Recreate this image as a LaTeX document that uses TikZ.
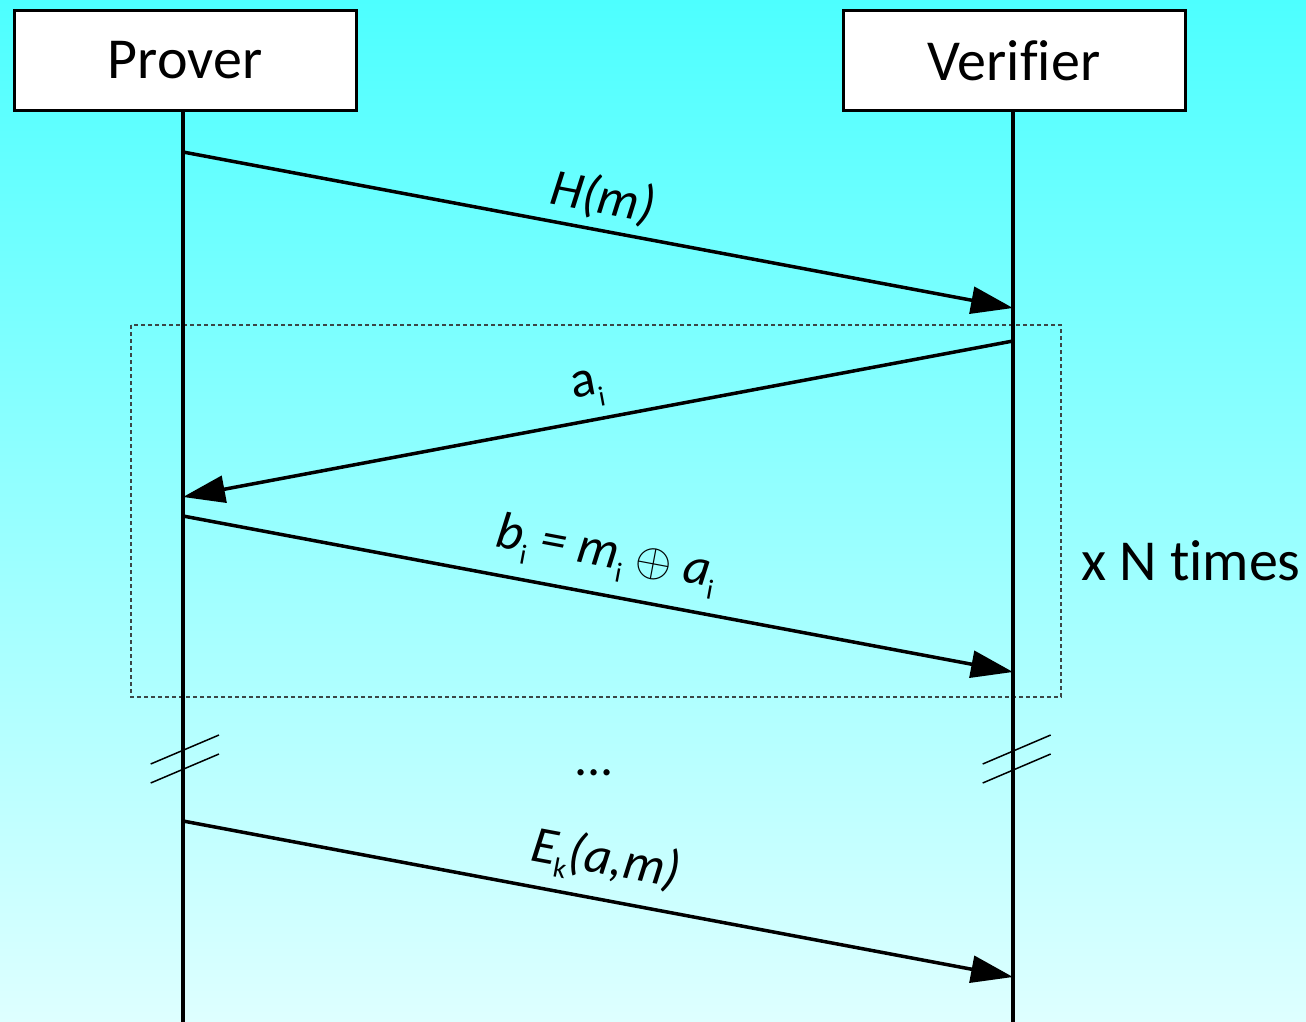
\documentclass[tikz,border=0pt]{standalone}
\usepackage{fontspec}
\setmainfont{Carlito}[Ligatures={NoCommon}]
\usetikzlibrary{arrows.meta}
\definecolor{bgtop}{RGB}{77,255,255}
\definecolor{bgbot}{RGB}{222,255,255}
\definecolor{dashgray}{RGB}{60,70,70}
\newcommand\sbs[1]{\raisebox{-12pt}{\upshape\fontsize{28}{28}\selectfont #1}}
\newcommand\xorsym{\scalebox{4.7}{\normalsize$\oplus$}}
\begin{document}
\begin{tikzpicture}[x=1pt,y=-1pt,
  actor/.style={draw, line width=3pt, fill=white, minimum width=342pt, minimum height=100pt, inner sep=0pt, font=\fontsize{58}{62}\selectfont},
  life/.style={line width=3.2pt},
  msg/.style={line width=3.5pt, -{Triangle[length=42pt,width=27pt]}},
  lbl/.style={font=\fontsize{52}{56}\selectfont, inner sep=0pt, anchor=base},
  brk/.style={line width=1.5pt},
  loopbox/.style={draw=dashgray, line width=1.1pt, dash pattern=on 4pt off 3pt},
]
\shade[top color=bgtop, bottom color=bgbot] (0,0) rectangle (1306,1022);
\useasboundingbox (0,0) rectangle (1306,1022);

% loop frame
\draw[loopbox] (131,325) rectangle (1061,697);

% actors
\node[actor] (P) at (185,60.5) {Prover};
\node[actor] (V) at (1014,60.5) {Verifier};

% lifelines
\coordinate (Pend) at (183,1022);
\coordinate (Vend) at (1013,1022);
\draw[life] (P.south -| Pend) -- (Pend);
\draw[life] (V.south -| Vend) -- (Vend);

% message endpoints
\coordinate (m1s) at (183,152);  \coordinate (m1e) at (1013,308);
\coordinate (m2s) at (1013,341); \coordinate (m2e) at (183,497);
\coordinate (m3s) at (183,516);  \coordinate (m3e) at (1013,672);
\coordinate (m4s) at (183,821);  \coordinate (m4e) at (1013,977);

\draw[msg] (m1s) -- (m1e);
\draw[msg] (m2s) -- (m2e);
\draw[msg] (m3s) -- (m3e);
\draw[msg] (m4s) -- (m4e);

% labels
\node[lbl, rotate=-10.64] (l1) at (600,213) {\itshape H(m)};
\node[lbl, rotate=10.64] (l2) at (589,396) {a\sbs{i}};
\node[lbl, rotate=-10.64] (l3) at (604,567) {\itshape b\sbs{i} = m\sbs{i} \xorsym{} a\sbs{i}};
\node[lbl, rotate=-10.64] (l4) at (603,874) {\itshape E\sbs{k}(a,m)};

\node[font=\fontsize{58}{62}\selectfont, inner sep=0pt, anchor=base west] (times) at (1081,580) {x N times};
\node[lbl] (dots) at (594,775) {...};

% break marks
\coordinate (pb1a) at (150.7,764); \coordinate (pb1b) at (219,735);
\coordinate (pb2a) at (150.7,783); \coordinate (pb2b) at (219,754);
\coordinate (vb1a) at (982.7,764); \coordinate (vb1b) at (1050.7,735);
\coordinate (vb2a) at (982.7,783); \coordinate (vb2b) at (1050.7,754);
\draw[brk] (pb1a) -- (pb1b);
\draw[brk] (pb2a) -- (pb2b);
\draw[brk] (vb1a) -- (vb1b);
\draw[brk] (vb2a) -- (vb2b);
\end{tikzpicture}
\end{document}
